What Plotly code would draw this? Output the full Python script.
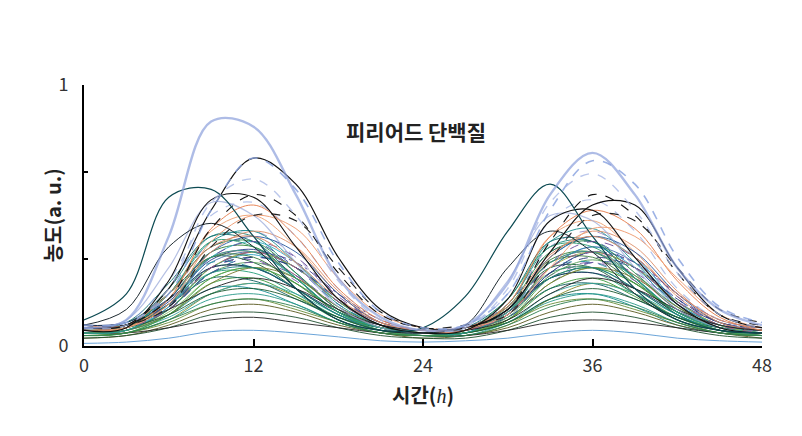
import plotly.graph_objects as go

hours = [0, 3, 6, 9, 12, 15, 18, 21, 24, 27, 30, 33, 36, 39, 42, 45, 48]
x_ticks = [0, 12, 24, 36, 48]
y_ticks = [0, 1/3, 2/3, 1]
y_ticktext = ["0", "", "", "1"]

# ---- background mass of period-protein curves ----
m01 = [0.06,0.08,0.22,0.42,0.42,0.28,0.14,0.07,0.05,0.06,0.16,0.38,0.40,0.26,0.12,0.06,0.05]
m02 = [0.05,0.07,0.18,0.36,0.38,0.26,0.13,0.07,0.05,0.06,0.14,0.33,0.36,0.25,0.12,0.06,0.04]
m03 = [0.07,0.08,0.17,0.33,0.37,0.30,0.17,0.09,0.06,0.07,0.12,0.28,0.36,0.30,0.17,0.09,0.06]
m04 = [0.06,0.07,0.15,0.30,0.33,0.25,0.13,0.07,0.05,0.06,0.12,0.27,0.32,0.25,0.13,0.07,0.05]
m05 = [0.05,0.06,0.14,0.30,0.35,0.27,0.14,0.07,0.04,0.05,0.13,0.30,0.38,0.30,0.15,0.07,0.05]
m06 = [0.08,0.09,0.20,0.34,0.32,0.22,0.12,0.07,0.06,0.07,0.15,0.30,0.30,0.20,0.11,0.07,0.06]
m07 = [0.04,0.05,0.10,0.20,0.24,0.19,0.11,0.06,0.04,0.04,0.08,0.18,0.24,0.20,0.11,0.06,0.04]
m08 = [0.06,0.07,0.16,0.28,0.28,0.20,0.11,0.06,0.05,0.06,0.14,0.26,0.28,0.20,0.11,0.06,0.05]
m09 = [0.07,0.08,0.20,0.38,0.40,0.30,0.16,0.08,0.06,0.07,0.16,0.36,0.40,0.30,0.16,0.08,0.06]
m10 = [0.06,0.07,0.16,0.34,0.36,0.27,0.14,0.07,0.05,0.06,0.14,0.32,0.36,0.27,0.14,0.07,0.05]
m11 = [0.04,0.05,0.12,0.24,0.26,0.19,0.10,0.05,0.04,0.05,0.10,0.22,0.26,0.19,0.10,0.05,0.04]
m12 = [0.05,0.06,0.12,0.22,0.22,0.16,0.09,0.05,0.04,0.05,0.09,0.18,0.20,0.15,0.08,0.05,0.04]
m13 = [0.07,0.08,0.16,0.26,0.25,0.18,0.11,0.07,0.06,0.06,0.11,0.22,0.24,0.18,0.11,0.07,0.06]
m14 = [0.06,0.07,0.18,0.40,0.44,0.34,0.18,0.08,0.05,0.06,0.15,0.38,0.44,0.34,0.18,0.08,0.06]
m15 = [0.05,0.06,0.15,0.32,0.36,0.30,0.17,0.08,0.05,0.06,0.12,0.30,0.38,0.32,0.17,0.08,0.05]
m16 = [0.05,0.06,0.14,0.28,0.32,0.26,0.15,0.08,0.05,0.05,0.11,0.27,0.33,0.27,0.15,0.07,0.05]
m17 = [0.03,0.04,0.08,0.14,0.16,0.13,0.08,0.05,0.03,0.04,0.07,0.13,0.16,0.13,0.08,0.05,0.03]
m18 = [0.04,0.05,0.10,0.18,0.20,0.16,0.09,0.05,0.04,0.04,0.09,0.17,0.20,0.16,0.09,0.05,0.04]
m19 = [0.03,0.04,0.07,0.12,0.13,0.11,0.07,0.04,0.03,0.03,0.06,0.11,0.13,0.11,0.07,0.04,0.03]
m20 = [0.05,0.05,0.07,0.10,0.11,0.09,0.07,0.05,0.04,0.04,0.06,0.09,0.10,0.09,0.07,0.05,0.04]
m21 = [0.01,0.015,0.03,0.055,0.06,0.05,0.035,0.02,0.015,0.02,0.03,0.05,0.06,0.05,0.03,0.02,0.015]
m22 = [0.04,0.05,0.09,0.16,0.18,0.14,0.09,0.05,0.04,0.05,0.09,0.16,0.18,0.14,0.09,0.05,0.04]
m23 = [0.08,0.08,0.14,0.28,0.34,0.30,0.18,0.09,0.06,0.07,0.11,0.24,0.32,0.30,0.18,0.09,0.07]
m24 = [0.07,0.07,0.18,0.44,0.50,0.38,0.20,0.09,0.06,0.07,0.16,0.42,0.48,0.36,0.19,0.09,0.06]
m25 = [0.06,0.07,0.14,0.28,0.32,0.27,0.15,0.07,0.05,0.06,0.12,0.26,0.32,0.28,0.16,0.08,0.06]
m26 = [0.07,0.08,0.18,0.32,0.30,0.22,0.12,0.07,0.05,0.06,0.14,0.30,0.32,0.24,0.13,0.07,0.05]
m27 = [0.06,0.07,0.16,0.30,0.30,0.22,0.12,0.07,0.05,0.06,0.13,0.28,0.30,0.22,0.12,0.06,0.05]
m28 = [0.05,0.06,0.13,0.26,0.30,0.24,0.13,0.07,0.05,0.05,0.10,0.24,0.30,0.24,0.13,0.07,0.05]
m29 = [0.08,0.09,0.18,0.30,0.30,0.22,0.13,0.08,0.06,0.07,0.13,0.26,0.28,0.22,0.13,0.08,0.06]
m30 = [0.05,0.06,0.11,0.20,0.24,0.20,0.12,0.06,0.04,0.05,0.09,0.20,0.24,0.20,0.12,0.06,0.04]
m31 = [0.07,0.08,0.16,0.30,0.36,0.32,0.20,0.10,0.06,0.07,0.12,0.28,0.36,0.32,0.20,0.10,0.07]
m32 = [0.06,0.07,0.20,0.40,0.44,0.32,0.16,0.08,0.05,0.06,0.16,0.40,0.45,0.32,0.16,0.08,0.05]
m33 = [0.05,0.07,0.20,0.38,0.40,0.28,0.14,0.07,0.05,0.06,0.15,0.36,0.40,0.28,0.14,0.07,0.05]
m34 = [0.07,0.09,0.24,0.42,0.40,0.26,0.13,0.07,0.05,0.07,0.18,0.40,0.40,0.26,0.13,0.07,0.05]
m35 = [0.05,0.06,0.15,0.34,0.40,0.32,0.17,0.08,0.05,0.05,0.13,0.34,0.42,0.34,0.17,0.08,0.05]
m36 = [0.06,0.07,0.16,0.34,0.40,0.34,0.19,0.09,0.06,0.06,0.13,0.32,0.40,0.34,0.19,0.09,0.06]
m37 = [0.05,0.06,0.14,0.30,0.36,0.30,0.17,0.08,0.05,0.05,0.12,0.30,0.36,0.30,0.17,0.08,0.05]
m38 = [0.06,0.07,0.18,0.34,0.34,0.24,0.13,0.07,0.05,0.06,0.14,0.32,0.34,0.24,0.13,0.07,0.05]
m39 = [0.07,0.08,0.18,0.36,0.42,0.36,0.20,0.09,0.06,0.07,0.14,0.34,0.42,0.36,0.20,0.09,0.06]
m40 = [0.06,0.07,0.20,0.40,0.38,0.26,0.13,0.07,0.05,0.06,0.18,0.38,0.38,0.26,0.13,0.07,0.05]
m41 = [0.05,0.06,0.12,0.24,0.30,0.26,0.15,0.07,0.05,0.05,0.10,0.24,0.30,0.26,0.15,0.07,0.05]
m42 = [0.08,0.08,0.15,0.30,0.34,0.30,0.18,0.09,0.06,0.07,0.12,0.28,0.34,0.30,0.18,0.09,0.07]
m43 = [0.04,0.05,0.12,0.26,0.30,0.24,0.13,0.06,0.04,0.05,0.10,0.26,0.30,0.24,0.13,0.06,0.04]
m44 = [0.05,0.06,0.14,0.28,0.30,0.22,0.12,0.06,0.05,0.05,0.12,0.26,0.30,0.22,0.12,0.06,0.05]
m45 = [0.06,0.07,0.16,0.36,0.44,0.38,0.21,0.09,0.06,0.06,0.13,0.34,0.44,0.38,0.21,0.09,0.06]
m46 = [0.06,0.07,0.12,0.20,0.22,0.18,0.11,0.06,0.05,0.05,0.09,0.18,0.22,0.18,0.11,0.06,0.05]
m47 = [0.05,0.06,0.16,0.34,0.36,0.26,0.13,0.07,0.05,0.05,0.13,0.32,0.36,0.26,0.13,0.07,0.05]
m48 = [0.06,0.07,0.14,0.30,0.36,0.30,0.17,0.08,0.05,0.06,0.12,0.30,0.36,0.30,0.17,0.08,0.05]
m49 = [0.07,0.08,0.14,0.22,0.26,0.22,0.14,0.08,0.06,0.06,0.10,0.20,0.26,0.22,0.14,0.08,0.06]
m50 = [0.04,0.05,0.10,0.16,0.18,0.15,0.09,0.05,0.04,0.04,0.08,0.15,0.18,0.15,0.09,0.05,0.04]

# ---- prominent curves ----
pale1 = [0.07,0.10,0.30,0.55,0.50,0.32,0.15,0.07,0.05,0.07,0.25,0.50,0.48,0.30,0.14,0.07,0.05]
pale2 = [0.08,0.09,0.25,0.50,0.55,0.42,0.22,0.10,0.06,0.07,0.20,0.48,0.56,0.44,0.22,0.10,0.07]
orange1 = [0.06,0.07,0.18,0.45,0.54,0.42,0.22,0.10,0.06,0.06,0.16,0.42,0.52,0.45,0.25,0.11,0.06]
orange2 = [0.07,0.07,0.16,0.40,0.50,0.45,0.26,0.12,0.07,0.07,0.12,0.30,0.45,0.42,0.26,0.12,0.07]
orange3 = [0.08,0.08,0.20,0.38,0.42,0.32,0.18,0.09,0.06,0.07,0.15,0.35,0.42,0.34,0.20,0.10,0.07]
black_low = [0.08,0.14,0.38,0.47,0.38,0.22,0.10,0.06,0.05,0.08,0.30,0.44,0.36,0.20,0.10,0.06,0.05]
black_dash1 = [0.07,0.08,0.18,0.45,0.58,0.50,0.28,0.12,0.07,0.07,0.14,0.40,0.58,0.50,0.28,0.12,0.08]
black_dash2 = [0.08,0.08,0.15,0.38,0.50,0.48,0.30,0.13,0.07,0.08,0.12,0.33,0.50,0.48,0.30,0.14,0.09]
black_mid = [0.06,0.07,0.25,0.56,0.57,0.38,0.18,0.08,0.05,0.06,0.18,0.48,0.52,0.34,0.16,0.07,0.05]
black_late = [0.07,0.08,0.22,0.52,0.72,0.62,0.34,0.14,0.07,0.07,0.14,0.36,0.54,0.54,0.30,0.12,0.07]
teal_early = [0.10,0.20,0.57,0.60,0.42,0.22,0.10,0.06,0.07,0.19,0.44,0.62,0.42,0.22,0.10,0.06,0.05]
lblue_dash1 = [0.08,0.09,0.20,0.52,0.72,0.60,0.32,0.13,0.07,0.08,0.20,0.52,0.71,0.62,0.34,0.15,0.09]
lblue_dash2 = [0.07,0.08,0.22,0.55,0.64,0.50,0.25,0.10,0.06,0.07,0.22,0.55,0.66,0.52,0.28,0.12,0.07]
lblue_top = [0.07,0.10,0.42,0.86,0.84,0.58,0.26,0.11,0.06,0.08,0.24,0.58,0.74,0.58,0.30,0.14,0.08]

mass = [m01, m02, m03, m04, m05, m06, m07, m08, m09, m10, m11, m12, m13, m14, m15,
        m16, m17, m18, m19, m20, m21, m22, m23, m24, m25, m26, m27, m28, m29, m30,
        m31, m32, m33, m34, m35, m36, m37, m38, m39, m40, m41, m42, m43, m44, m45,
        m46, m47, m48, m49, m50]
mass_colors = ["#1f8a80", "#2e7d32", "#2b3f8c", "#7b5ea7", "#2aa0c0", "#1b5e3b", "#8c8c2c",
               "#26a07a", "#3050a0", "#c0607a", "#3c9a3c", "#138d90", "#0f5f5f", "#9a8cc8",
               "#4a78b0", "#58a05a", "#5a5a20", "#2a9a8a", "#205030", "#222222", "#5b9bd5",
               "#6a8f3a", "#3050a0", "#f0a070", "#7050a0", "#2090a0", "#2f8f5f", "#8cbf6a",
               "#1a2a5a", "#3aa6a0",
               "#4a3f90", "#1a8f8f", "#2a8a4a", "#0e6e6e", "#34b0c8", "#6a4a9a", "#a0b040",
               "#3a7a3a", "#2a5aa0", "#2a9a70", "#7a7a30", "#283878", "#46a046", "#1a7a80",
               "#e0906a", "#1e5a30", "#2aa090", "#a05090", "#202020", "#2f7f4f"]
mass_dash = ["solid", "solid", "solid", "dash", "solid", "solid", "solid", "solid", "dash",
             "solid", "solid", "solid", "solid", "dash", "solid", "solid", "solid", "solid",
             "solid", "solid", "solid", "solid", "dash", "solid", "dash", "dash", "solid",
             "solid", "solid", "solid",
             "dashdot", "solid", "solid", "solid", "solid", "dash", "solid", "solid", "solid",
             "solid", "solid", "dash", "solid", "solid", "solid", "solid", "solid", "dash",
             "solid", "solid"]

top = [pale1, pale2, orange1, orange2, orange3, black_low, black_dash1, black_dash2,
       black_mid, black_late, teal_early, lblue_dash1, lblue_dash2, lblue_top]
top_colors = ["rgba(150,165,215,0.7)", "rgba(150,170,225,0.7)", "#e8875a", "#f0a27a",
              "#d98a6a", "#1e2a30", "#111111", "#222222", "#111111", "#111111", "#0c4a52",
              "rgba(140,165,225,0.85)", "rgba(170,185,230,0.8)", "rgba(140,160,220,0.7)"]
top_dash = ["solid", "dash", "solid", "solid", "solid", "solid", "dash", "dash", "solid",
            "solid", "solid", "dash", "dash", "solid"]
top_width = [1.2, 1.2, 1, 1, 1, 1, 1.1, 1.1, 1.1, 1.2, 1.2, 1.6, 1.4, 2.4]

fig = go.Figure()
for vals, col, d in zip(mass, mass_colors, mass_dash):
    fig.add_trace(go.Scatter(x=hours, y=vals, mode="lines",
                             line=dict(color=col, width=1, dash=d, shape="spline", smoothing=1.0),
                             opacity=0.9, hoverinfo="skip"))
for vals, col, d, w in zip(top, top_colors, top_dash, top_width):
    fig.add_trace(go.Scatter(x=hours, y=vals, mode="lines",
                             line=dict(color=col, width=w, dash=d, shape="spline", smoothing=1.0),
                             hoverinfo="skip"))

font_kr = "Noto Sans CJK KR"
fig.update_layout(
    width=802, height=436,
    margin=dict(l=84, r=40, t=85, b=90),
    paper_bgcolor="white", plot_bgcolor="white",
    showlegend=False,
    font=dict(family=font_kr, color="#333333", size=18),
    xaxis=dict(range=[0, 48], tickvals=x_ticks, ticktext=[str(v) for v in x_ticks],
               showgrid=False, zeroline=False, showline=True, linecolor="black", linewidth=2,
               ticks="inside", ticklen=7, tickwidth=1.5, tickcolor="black",
               ticklabelstandoff=2,
               tickfont=dict(family=font_kr, size=18, color="#333333")),
    yaxis=dict(range=[0, 1], tickvals=y_ticks, ticktext=y_ticktext,
               showgrid=False, zeroline=False, showline=True, linecolor="black", linewidth=2,
               ticks="inside", ticklen=4, tickwidth=1.5, tickcolor="black",
               ticklabelstandoff=10,
               tickfont=dict(family=font_kr, size=18, color="#333333")),
    annotations=[
        dict(text="피리어드 단백질", x=0.49, y=0.824, xref="paper", yref="paper",
             xanchor="center", yanchor="middle",
             showarrow=False, font=dict(family=font_kr, size=21, color="#222222", weight="bold")),
        dict(text="농도(a. u.)", x=-0.046, y=0.5, xref="paper", yref="paper", textangle=-90,
             xanchor="center", yanchor="middle",
             showarrow=False, font=dict(family=font_kr, size=20, color="#222222", weight="bold")),
        dict(text="시간(<span style=\"font-family:'Liberation Serif';font-weight:normal\"><i>h</i></span>)",
             x=0.5, y=-0.185, xref="paper", yref="paper",
             xanchor="center", yanchor="middle",
             showarrow=False, font=dict(family=font_kr, size=20, color="#222222", weight="bold")),
    ],
)
fig.write_html("out.html")
